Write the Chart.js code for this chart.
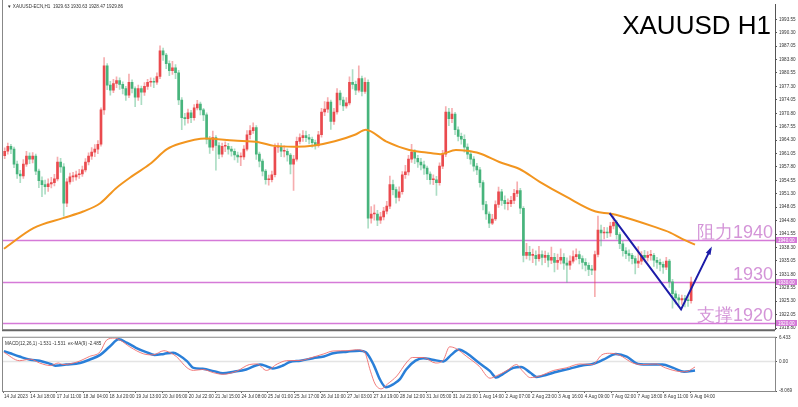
<!DOCTYPE html>
<html>
<head>
<meta charset="utf-8">
<script src="https://cdn.jsdelivr.net/npm/chart.js@4/dist/chart.umd.min.js"></script>
<style>
  html, body { margin: 0; padding: 0; background: #fff; }
  #wrap { position: relative; width: 798px; height: 407px; overflow: hidden; background: #fff; }
  #main { position: absolute; left: 0; top: 0; }
  #macd { position: absolute; left: 0; top: 333px; }
</style>
</head>
<body>
<div id="wrap">
  <canvas id="main" width="798" height="334"></canvas>
  <canvas id="macd" width="798" height="74"></canvas>
</div>
<script>
// ── Data (2-hour candles, XAUUSD H1 view 14 Jul – 9 Aug 2023) ─────────────────

const firstOpen = 1960.5;

const closes = [
  1961.6,1962.8,1962.1,1958.5,1956.1,1955.6,1958.5,1960.4,1959.7,1960.4,
  1956.8,1954.5,1953.5,1953.0,1953.7,1954.0,1954.9,1959.0,1957.8,1949.0,
  1954.2,1955.4,1955.4,1955.9,1956.1,1957.1,1959.0,1960.4,1961.4,1962.1,
  1963.3,1971.6,1982.3,1977.6,1976.4,1978.0,1978.7,1977.8,1976.8,1975.2,
  1978.3,1976.8,1974.7,1976.8,1975.9,1977.3,1978.3,1978.5,1978.3,1979.7,
  1985.9,1984.9,1982.8,1981.1,1981.8,1980.6,1974.0,1969.7,1969.5,1970.9,
  1969.7,1972.1,1973.0,1971.6,1970.4,1964.5,1962.6,1964.9,1963.0,1960.9,
  1962.8,1962.8,1962.1,1961.6,1960.7,1960.2,1960.2,1962.1,1965.6,1966.6,
  1967.3,1960.9,1959.2,1956.8,1954.7,1954.7,1955.9,1962.6,1962.6,1961.6,
  1961.6,1960.7,1958.5,1959.7,1964.0,1964.9,1965.4,1964.9,1964.5,1963.7,
  1963.0,1965.6,1971.1,1971.8,1973.5,1968.8,1971.1,1975.7,1974.0,1972.6,
  1973.3,1978.3,1977.8,1976.4,1979.2,1976.1,1978.3,1945.4,1946.4,1946.4,
  1944.9,1945.7,1947.1,1948.3,1953.5,1952.3,1950.4,1951.8,1955.9,1956.6,
  1959.7,1961.4,1959.9,1959.0,1958.3,1957.5,1956.1,1954.7,1954.7,1954.0,
  1958.0,1960.9,1971.1,1969.5,1970.6,1966.8,1965.2,1964.5,1962.6,1960.9,
  1959.7,1958.0,1957.1,1954.0,1948.7,1946.4,1944.2,1945.2,1948.7,1951.8,
  1949.7,1948.9,1948.9,1949.7,1951.4,1952.1,1947.8,1936.4,1937.1,1936.4,
  1936.4,1935.6,1936.6,1935.9,1936.4,1935.2,1935.9,1934.7,1935.2,1935.9,
  1934.5,1934.0,1935.0,1936.1,1936.6,1935.6,1934.7,1934.0,1933.0,1932.8,
  1936.6,1942.5,1941.8,1942.0,1941.8,1943.5,1944.4,1941.4,1939.2,1937.5,
  1936.8,1936.4,1935.6,1934.5,1935.0,1936.4,1935.9,1936.4,1936.4,1935.2,
  1934.7,1934.2,1933.5,1935.0,1930.0,1927.1,1926.1,1925.6,1925.9,1925.6,
  1925.4,1929.9
];

const highs = [
  1962.4,1963.6,1963.3,1962.6,1959.2,1957.0,1959.6,1961.6,1961.2,1961.3,
  1960.9,1957.3,1955.4,1954.6,1954.9,1955.3,1956.0,1960.2,1959.9,1958.6,
  1955.0,1956.3,1956.5,1956.8,1957.2,1958.0,1959.8,1961.2,1962.5,1963.2,
  1964.2,1972.1,1984.3,1982.8,1978.5,1979.0,1979.6,1979.4,1978.4,1977.3,
  1980.3,1978.9,1977.2,1977.6,1977.4,1978.2,1979.0,1979.4,1979.3,1980.6,
  1987.1,1986.6,1985.3,1983.5,1983.4,1982.6,1981.2,1974.6,1970.8,1971.8,
  1971.5,1972.9,1973.9,1973.5,1972.0,1970.9,1965.2,1966.5,1965.4,1963.7,
  1963.6,1963.9,1963.5,1962.8,1962.2,1961.4,1961.2,1963.0,1966.6,1967.8,
  1968.5,1967.8,1961.4,1959.7,1957.2,1955.8,1956.8,1963.4,1963.6,1963.5,
  1962.9,1962.2,1961.1,1960.6,1965.0,1965.8,1966.6,1966.5,1965.7,1965.0,
  1964.3,1966.4,1972.0,1973.6,1974.6,1974.0,1972.0,1976.8,1976.3,1974.7,
  1974.6,1979.6,1981.4,1978.6,1982.3,1979.8,1979.4,1978.9,1948.2,1948.6,
  1947.3,1946.8,1948.0,1949.5,1955.6,1954.6,1952.9,1953.0,1956.7,1958.2,
  1960.6,1963.3,1962.0,1960.6,1959.9,1959.2,1958.0,1956.6,1955.9,1955.5,
  1958.8,1961.8,1972.4,1972.0,1972.0,1971.0,1967.5,1966.0,1965.6,1963.4,
  1961.6,1960.3,1958.7,1957.7,1954.5,1949.5,1946.9,1946.3,1949.6,1952.9,
  1952.4,1950.8,1950.1,1950.7,1952.4,1954.2,1952.6,1948.2,1939.3,1938.6,
  1937.9,1937.5,1938.6,1937.5,1937.4,1937.0,1938.4,1936.9,1936.7,1938.0,
  1936.8,1935.8,1936.3,1937.5,1938.0,1937.4,1936.3,1935.6,1934.6,1934.0,
  1937.4,1945.9,1943.7,1943.2,1943.1,1944.4,1945.9,1944.9,1941.9,1939.8,
  1938.3,1937.7,1936.9,1936.2,1938.5,1937.3,1937.6,1937.3,1937.6,1936.9,
  1935.9,1935.5,1934.8,1935.9,1935.4,1930.6,1927.8,1926.9,1926.8,1926.7,
  1926.5,1931.1
];

const lows = [
  1959.8,1960.9,1961.0,1957.6,1955.0,1954.0,1955.0,1957.9,1958.6,1958.8,
  1955.9,1952.8,1950.6,1951.2,1951.9,1952.7,1953.2,1954.4,1956.5,1945.9,
  1948.2,1953.6,1954.3,1954.6,1955.0,1955.5,1956.6,1958.3,1959.6,1960.3,
  1961.0,1962.8,1970.5,1976.5,1975.2,1975.8,1977.0,1976.6,1975.5,1973.9,
  1974.6,1975.7,1972.4,1973.9,1972.9,1975.1,1976.6,1977.3,1977.0,1977.8,
  1979.2,1983.6,1981.6,1979.9,1980.2,1979.2,1972.9,1966.8,1967.9,1968.4,
  1968.5,1969.1,1971.6,1970.4,1969.0,1963.4,1961.1,1961.8,1957.0,1959.8,
  1960.2,1961.5,1960.9,1960.4,1959.5,1958.9,1958.1,1959.6,1961.7,1964.6,
  1965.9,1959.6,1957.8,1955.6,1953.6,1953.4,1954.2,1955.4,1961.3,1960.3,
  1960.2,1959.2,1956.1,1952.1,1959.2,1963.4,1964.0,1963.9,1963.4,1962.6,
  1962.1,1962.6,1965.0,1970.2,1971.0,1966.9,1968.1,1970.6,1972.8,1971.4,
  1972.0,1972.8,1976.7,1975.3,1975.9,1975.0,1975.6,1943.0,1944.2,1944.9,
  1943.6,1944.1,1945.0,1946.4,1947.7,1951.0,1949.0,1949.6,1951.2,1955.0,
  1955.8,1958.9,1958.6,1957.7,1957.1,1956.0,1954.7,1953.6,1953.5,1950.9,
  1953.4,1957.4,1960.3,1967.8,1968.5,1965.6,1964.1,1963.3,1961.4,1959.8,
  1958.5,1956.8,1955.9,1952.9,1947.4,1945.1,1943.1,1943.8,1944.8,1948.0,
  1948.5,1947.6,1947.4,1948.2,1948.9,1950.6,1946.5,1934.8,1935.5,1935.2,
  1934.6,1934.0,1935.0,1934.1,1934.6,1933.6,1934.4,1932.4,1933.0,1934.3,
  1933.0,1929.9,1933.0,1934.5,1935.3,1934.3,1933.1,1932.6,1931.5,1931.7,
  1926.4,1936.0,1938.7,1940.4,1940.7,1941.0,1942.8,1940.3,1938.0,1936.2,
  1935.6,1935.0,1934.3,1931.9,1933.4,1934.2,1934.8,1935.0,1935.2,1933.7,
  1933.2,1932.6,1932.0,1932.9,1928.6,1923.6,1924.6,1924.3,1924.5,1923.9,
  1924.0,1924.8
];

// moving average (orange) — bar index / price
const maBars = [0,19,38,51,62,72,83,94,105,113,130,148,164,174,187,200,213,226,233,
  246,261,272,281,291,298,306,319,332,345,362,381,390,398,418,429,437,445];
const maVals = [1938.0,1943.0,1945.4,1947.0,1949.0,1952.6,1955.7,1958.5,1962.1,1963.4,
  1964.7,1964.2,1963.8,1962.9,1962.7,1963.0,1964.0,1965.6,1966.8,1964.0,1961.9,1961.3,
  1960.9,1961.9,1961.7,1961.1,1959.0,1957.3,1954.2,1950.6,1947.0,1946.5,1945.8,1943.4,
  1941.9,1940.3,1939.0];

// MACD (thin red) and ex-MA(9) signal (thick blue)
const macdBars = [0,10,17,23,30,35,38,47,55,62,66,71,75,81,90,96,103,107,111,118,122,128,
  135,141,150,158,163,169,176,182,191,199,206,212,221,227,232,236,239,243,247,253,259,263,
  270,278,283,287,291,298,306,313,317,324,330,334,339,345,354,362,371,379,385,390,396,405,
  411,420,426,433,439,445];
const macdVals = [2.47,0.19,0.61,-0.45,-1.14,-0.45,-0.87,-0.18,1.32,2.65,5.74,6.35,5.74,3.97,
  2.04,1.77,2.91,2.38,1.32,-1.77,-2.46,-2.2,-3.09,-3.52,-2.65,-0.87,-0.71,-2.46,-0.71,0.19,
  0.26,1.14,2.04,2.83,2.91,3.17,2.65,-2.65,-6.16,-7.49,-6.16,-3.97,-0.44,1.06,1.06,-0.45,0.44,
  3.97,3.52,1.32,-1.32,-4.58,-3.97,-2.46,-0.87,-2.65,-4.42,-3.97,-2.46,-1.77,-0.71,-0.87,
  1.77,2.2,1.77,-0.45,-0.87,-0.71,-1.77,-2.65,-2.83,-1.53];

const sigBars = [0,4,10,17,23,30,33,40,49,55,62,68,74,79,85,92,97,103,109,113,118,122,128,
  135,141,148,156,165,169,173,180,184,191,199,206,212,221,229,233,238,242,246,251,255,259,
  265,270,276,283,288,293,298,306,313,317,321,328,333,339,343,349,356,364,373,379,386,394,
  401,407,414,424,431,438,445];
const sigVals = [2.8,2.2,1.32,0.44,0.19,-0.71,-1.16,-0.87,-0.45,0.45,1.77,3.97,6.0,5.11,3.7,
  2.46,1.77,2.04,2.38,1.59,0,-1.77,-2.04,-2.65,-3.25,-2.83,-2.2,-0.87,-1.32,-1.93,-1.06,-0.18,
  0.19,0.87,1.32,2.2,2.65,2.91,2.46,-0.87,-4.84,-7.06,-6.16,-4.84,-2.2,0.19,0.87,0.45,0,1.77,
  3.25,2.2,-0.45,-2.65,-4.42,-3.52,-1.77,-1.51,-3.09,-4.23,-3.7,-2.83,-2.04,-1.06,-0.71,0.45,
  2.04,1.32,-0.45,-0.87,-0.87,-1.77,-2.83,-2.49];

// hand-drawn V trend (bar index / price)
const trendBars = [390, 436, 455];
const trendVals = [1946.6, 1923.3, 1937.9];

// horizontal levels
const levels     = [1940, 1930, 1920];
const levelTexts = ['阻力1940', '1930', '支撑1920'];

// axes
const priceTicks = [1918.80,1922.05,1925.30,1928.55,1931.80,1935.05,1938.30,1941.55,1944.80,
  1948.05,1951.30,1954.55,1957.80,1961.05,1964.30,1967.55,1970.80,1974.05,1977.30,1980.55,
  1983.80,1987.05,1990.30,1993.55];
const macdTicks      = [6.433, 0, -8.069];
const macdTickLabels = ['6.433', '0.00', '-8.069'];
const xLabels = ['14 Jul 2023','14 Jul 18:00','17 Jul 11:00','18 Jul 04:00','18 Jul 20:00',
  '19 Jul 13:00','20 Jul 06:00','20 Jul 22:00','21 Jul 15:00','24 Jul 08:00','25 Jul 01:00',
  '25 Jul 17:00','26 Jul 10:00','27 Jul 03:00','27 Jul 19:00','28 Jul 12:00','31 Jul 05:00',
  '31 Jul 21:00','1 Aug 14:00','2 Aug 07:00','2 Aug 23:00','3 Aug 16:00','4 Aug 09:00',
  '7 Aug 02:00','7 Aug 18:00','8 Aug 11:00','9 Aug 04:00'];

// ── Helpers ───────────────────────────────────────────────────────────────────

const X_MIN = -0.6, X_MAX = 496.5;
const FONT  = 'Liberation Sans';
const SMALL = 4.6;
const UP    = '#ea4a4e', DOWN = '#47b47c';
const UP_W  = 'rgba(234,74,78,0.45)', DOWN_W = 'rgba(71,180,124,0.45)';

const opens  = closes.map((c, i) => i === 0 ? firstOpen : closes[i - 1]);
const isUp   = closes.map((c, i) => c >= opens[i]);
const candleX = i => i * 2 + 0.5;
const pts = (xs, ys) => xs.map((x, i) => ({ x, y: ys[i] }));

function rightAxis(min, max, ticks, labelFn) {
  return {
    position: 'right', min, max,
    afterBuildTicks: ax => { ax.ticks = ticks.map(v => ({ value: v })); },
    afterFit: ax => { ax.width = 23; },
    ticks: { autoSkip: false, font: { size: SMALL, family: FONT }, color: '#333', padding: 2, callback: labelFn },
    grid: { drawOnChartArea: false, tickLength: 2, color: '#555' },
    border: { color: '#555' },
  };
}

// ── Main price panel ──────────────────────────────────────────────────────────

const mainDecor = {
  id: 'mainDecor',
  beforeDatasetsDraw(chart) {
    const { ctx, chartArea: a, scales: { y } } = chart;
    ctx.save();
    ctx.strokeStyle = '#d57ad8';
    ctx.lineWidth = 1.5;
    levels.forEach(v => {
      const py = Math.round(y.getPixelForValue(v)) + 0.5;
      ctx.beginPath(); ctx.moveTo(a.left, py); ctx.lineTo(a.right, py); ctx.stroke();
    });
    ctx.restore();
  },
  afterDatasetsDraw(chart) {
    const { ctx, chartArea: a, scales: { x, y } } = chart;
    ctx.save();

    // arrow head on trend line
    const n = trendBars.length;
    const x1 = x.getPixelForValue(trendBars[n - 2]), y1 = y.getPixelForValue(trendVals[n - 2]);
    const x2 = x.getPixelForValue(trendBars[n - 1]), y2 = y.getPixelForValue(trendVals[n - 1]);
    const ang = Math.atan2(y2 - y1, x2 - x1);
    ctx.fillStyle = '#1c1ca8';
    ctx.beginPath();
    ctx.moveTo(x2 + 3 * Math.cos(ang), y2 + 3 * Math.sin(ang));
    ctx.lineTo(x2 - 6 * Math.cos(ang - 0.45), y2 - 6 * Math.sin(ang - 0.45));
    ctx.lineTo(x2 - 6 * Math.cos(ang + 0.45), y2 - 6 * Math.sin(ang + 0.45));
    ctx.closePath(); ctx.fill();

    // level texts + axis boxes
    ctx.font = `18px ${FONT}`;
    ctx.textAlign = 'right';
    ctx.textBaseline = 'alphabetic';
    ctx.fillStyle = '#d494d8';
    levels.forEach((v, i) => {
      const py = y.getPixelForValue(v);
      ctx.fillText(levelTexts[i], a.right - 2, py - 2);
    });
    ctx.font = `${SMALL}px ${FONT}`;
    ctx.textAlign = 'left';
    ctx.textBaseline = 'middle';
    levels.forEach(v => {
      const py = Math.round(y.getPixelForValue(v));
      ctx.fillStyle = '#d57ad8';
      ctx.fillRect(a.right + 1, py - 3, 21, 6);
      ctx.fillStyle = '#fff';
      ctx.fillText(v.toFixed(2), a.right + 3, py + 0.5);
    });

    // title
    ctx.fillStyle = '#000';
    ctx.font = `26px ${FONT}`;
    ctx.textAlign = 'right';
    ctx.textBaseline = 'alphabetic';
    ctx.fillText('XAUUSD H1', a.right - 4, 34);

    // header
    ctx.fillStyle = '#333';
    ctx.font = `${SMALL}px ${FONT}`;
    ctx.textAlign = 'left';
    ctx.textBaseline = 'middle';
    ctx.fillText('▼ XAUUSD-ECN,H1  1929.63 1930.63 1928.47 1929.86', a.left + 4, 7);

    // frame
    ctx.strokeStyle = '#888';
    ctx.lineWidth = 1;
    ctx.beginPath();
    ctx.moveTo(a.left - 0.5, 0); ctx.lineTo(a.left - 0.5, a.bottom);
    ctx.stroke();
    ctx.strokeStyle = '#666';
    ctx.lineWidth = 2;
    ctx.beginPath(); ctx.moveTo(a.left - 1, a.bottom + 1); ctx.lineTo(a.right, a.bottom + 1); ctx.stroke();
    ctx.restore();
  },
};

new Chart(document.getElementById('main'), {
  type: 'bar',
  data: {
    datasets: [
      {
        type: 'line', data: pts(maBars, maVals), borderColor: '#f2951f', borderWidth: 2,
        pointRadius: 0, tension: 0.4, cubicInterpolationMode: 'monotone', order: 1,
      },
      {
        type: 'line', data: pts(trendBars, trendVals), borderColor: '#1c1ca8', borderWidth: 2,
        pointRadius: 0, tension: 0, order: 0,
      },
      {
        data: closes.map((c, i) => ({ x: candleX(i), y: [lows[i], highs[i]] })),
        backgroundColor: isUp.map(u => u ? UP_W : DOWN_W),
        barThickness: 1, grouped: false, order: 3,
      },
      {
        data: closes.map((c, i) => ({ x: candleX(i), y: [opens[i], c] })),
        backgroundColor: isUp.map(u => u ? UP : DOWN),
        barThickness: 2, minBarLength: 1, grouped: false, order: 2,
      },
    ],
  },
  options: {
    responsive: false, animation: false,
    layout: { padding: { left: 3, top: 3, bottom: 1, right: 0 } },
    plugins: { legend: { display: false }, tooltip: { enabled: false } },
    scales: {
      x: { type: 'linear', min: X_MIN, max: X_MAX, offset: false, display: false },
      y: rightAxis(1918.5, 1997.07, priceTicks, v => v.toFixed(2)),
    },
  },
  plugins: [mainDecor],
});

// ── MACD panel ────────────────────────────────────────────────────────────────

const macdDecor = {
  id: 'macdDecor',
  beforeDatasetsDraw(chart) {
    const { ctx, chartArea: a, scales: { y } } = chart;
    ctx.save();
    ctx.strokeStyle = '#e4e4e4';
    ctx.lineWidth = 1.5;
    const py = y.getPixelForValue(0);
    ctx.beginPath(); ctx.moveTo(a.left, py); ctx.lineTo(a.right, py); ctx.stroke();
    ctx.restore();
  },
  afterDatasetsDraw(chart) {
    const { ctx, chartArea: a } = chart;
    ctx.save();
    ctx.fillStyle = '#333';
    ctx.font = `${SMALL}px ${FONT}`;
    ctx.textBaseline = 'middle';
    ctx.fillText('MACD(12,26,1) -1.531 -1.531  ex-MA(9) -2.485', a.left + 2, a.top + 6);
    ctx.strokeStyle = '#888';
    ctx.lineWidth = 1;
    ctx.strokeRect(a.left - 0.5, a.top - 0.5, a.right - a.left + 1, a.bottom - a.top + 1);
    ctx.restore();
  },
};

new Chart(document.getElementById('macd'), {
  type: 'line',
  data: {
    datasets: [
      {
        data: pts(macdBars, macdVals), borderColor: 'rgba(240,110,110,0.9)', borderWidth: 1,
        pointRadius: 0, tension: 0.4, cubicInterpolationMode: 'monotone',
      },
      {
        data: pts(sigBars, sigVals), borderColor: '#2a7fd8', borderWidth: 2.5,
        pointRadius: 0, tension: 0.4, cubicInterpolationMode: 'monotone',
      },
    ],
  },
  options: {
    responsive: false, animation: false,
    layout: { padding: { left: 3, top: 2, bottom: 0, right: 0 } },
    plugins: { legend: { display: false }, tooltip: { enabled: false } },
    scales: {
      x: {
        type: 'linear', min: X_MIN, max: X_MAX, offset: false,
        afterBuildTicks: ax => { ax.ticks = xLabels.map((_, i) => ({ value: i * 17 })); },
        afterFit: ax => { ax.height = 16; },
        ticks: {
          autoSkip: false, maxRotation: 0, align: 'start', padding: 1,
          font: { size: SMALL, family: FONT }, color: '#333',
          callback: (v, i) => xLabels[i],
        },
        grid: { drawOnChartArea: false, tickLength: 2, color: '#666' },
        border: { color: '#888' },
      },
      y: rightAxis(-8.069, 6.433, macdTicks, (v, i) => macdTickLabels[i]),
    },
  },
  plugins: [macdDecor],
});
</script>
</body>
</html>
